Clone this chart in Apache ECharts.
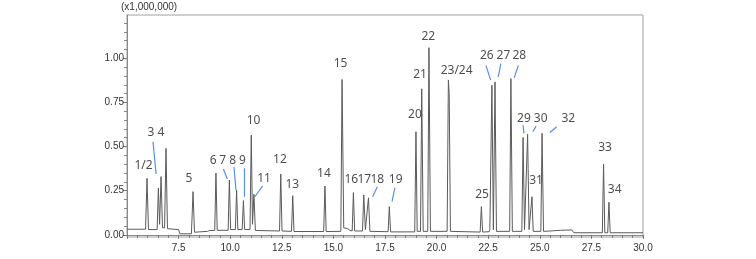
<!DOCTYPE html>
<html>
<head>
<meta charset="utf-8">
<script src="https://cdn.jsdelivr.net/npm/echarts@6/dist/echarts.min.js"></script>
<style>html,body{margin:0;padding:0;background:#fff}#c{width:756px;height:259px}</style>
</head>
<body>
<div id="c"></div>
<script>
// Chromatogram trace: [retention time (min), intensity (x1,000,000)]
var trace = [
[5.00,0.032],[5.90,0.032],[5.97,0.32],[6.04,0.030],
[6.46,0.030],[6.52,0.265],[6.58,0.06],[6.65,0.33],[6.72,0.04],[6.82,0.04],[6.89,0.49],[6.96,0.035],
[7.50,0.030],[7.56,0.006],[8.12,0.006],[8.20,0.245],[8.27,0.015],[8.90,0.020],[9.00,0.025],
[9.25,0.025],[9.31,0.35],[9.37,0.026],
[9.90,0.026],[9.96,0.31],[10.02,0.03],[10.25,0.03],[10.31,0.254],[10.37,0.03],
[10.58,0.03],[10.64,0.194],[10.70,0.03],
[10.96,0.03],[11.02,0.565],[11.08,0.06],[11.15,0.23],[11.22,0.025],
[12.39,0.022],[12.45,0.345],[12.51,0.022],
[12.97,0.020],[13.03,0.222],[13.09,0.019],
[14.53,0.019],[14.59,0.277],[14.65,0.019],
[15.36,0.020],[15.42,0.88],[15.50,0.040],[15.70,0.035],[15.80,0.025],
[15.91,0.022],[15.97,0.24],[16.03,0.022],
[16.41,0.022],[16.47,0.226],[16.55,0.03],[16.70,0.21],[16.77,0.020],
[17.65,0.018],[17.71,0.16],[17.77,0.017],
[18.94,0.017],[19.00,0.584],[19.06,0.02],[19.22,0.02],[19.28,0.827],[19.35,0.02],
[19.57,0.020],[19.63,1.06],[19.70,0.020],
[20.51,0.020],[20.57,0.876],[20.61,0.80],[20.67,0.020],
[22.11,0.016],[22.17,0.16],[22.23,0.016],
[22.55,0.018],[22.58,0.030],[22.62,0.025],[22.68,0.847],[22.75,0.03],[22.83,0.866],[22.90,0.020],
[23.54,0.020],[23.60,0.885],[23.67,0.020],
[24.13,0.020],[24.19,0.552],[24.26,0.03],[24.34,0.03],[24.41,0.569],[24.48,0.03],[24.56,0.03],[24.62,0.216],[24.68,0.020],
[25.05,0.020],[25.11,0.575],[25.18,0.020],
[25.50,0.022],[26.00,0.026],[26.55,0.028],[26.65,0.012],
[28.03,0.012],[28.09,0.40],[28.15,0.012],[28.29,0.012],[28.35,0.185],[28.41,0.012],
[30.00,0.012]
];

// Peak labels
var peakLabels = ["1/2","3","4","5","6","7","8","9","10","11","12","13","14","15","16","17","18","19","20","21","22","23/24","25","26","27","28","29","30","31","32","33","34"];
var labelTime  = [5.80,6.16,6.65,8.00,9.18,9.64,10.12,10.59,11.13,11.64,12.41,13.01,14.54,15.35,15.87,16.50,17.13,18.02,18.95,19.20,19.60,20.97,22.20,22.43,23.24,24.01,24.23,25.04,24.82,26.38,28.16,28.63];
var labelValue = [0.395,0.58,0.58,0.316,0.418,0.418,0.418,0.418,0.646,0.316,0.424,0.286,0.348,0.97,0.315,0.315,0.315,0.315,0.684,0.91,1.124,0.928,0.23,1.017,1.017,1.017,0.66,0.66,0.31,0.66,0.493,0.254];

// Leader lines: [t1, v1, t2, v2]
var leaders = [
[6.26,0.527,6.41,0.345],
[9.67,0.373,9.86,0.316],
[10.18,0.386,10.28,0.254],
[10.67,0.377,10.67,0.216],
[11.57,0.277,11.20,0.216],
[17.13,0.273,16.90,0.216],
[17.98,0.267,17.84,0.188],
[22.39,0.960,22.62,0.876],
[23.11,0.970,22.99,0.894],
[23.96,0.960,23.76,0.889],
[24.19,0.621,24.23,0.575],
[24.82,0.616,24.66,0.584],
[25.82,0.612,25.49,0.580]
];

var yTickValues = [0, 0.25, 0.5, 0.75, 1.0];
var yMinorTicks = [0.05,0.10,0.15,0.20,0.30,0.35,0.40,0.45,0.55,0.60,0.65,0.70,0.80,0.85,0.90,0.95,1.05,1.10,1.15,1.20];

var labelData = peakLabels.map(function (t, i) { return [labelTime[i], labelValue[i], t]; });
var leaderData = leaders.map(function (l) { return { coords: [[l[0], l[1]], [l[2], l[3]]] }; });

var chart = echarts.init(document.getElementById('c'), null, { renderer: 'canvas' });
var axisFont = { fontFamily: 'Liberation Sans, Arial, sans-serif', fontSize: 10, color: '#333' };
chart.setOption({
  animation: false,
  grid: { left: 127, right: 113, top: 15, bottom: 22, show: true, borderColor: '#a0a0a0', borderWidth: 1, backgroundColor: 'transparent' },
  xAxis: {
    type: 'value', min: 5, max: 30, interval: 2.5,
    axisLine: { show: true, lineStyle: { color: '#888', width: 1 } },
    axisTick: { show: true, length: 4, lineStyle: { color: '#777' } },
    minorTick: { show: true, splitNumber: 5, length: 3, lineStyle: { color: '#777' } },
    splitLine: { show: false },
    axisLabel: Object.assign({ showMinLabel: false, margin: 6, formatter: function (v) { return v.toFixed(1); } }, axisFont)
  },
  yAxis: [{
    type: 'value', min: -0.012, max: 1.245,
    name: '(x1,000,000)', nameLocation: 'end', nameGap: 3,
    nameTextStyle: Object.assign({ align: 'left', padding: [0, 0, 0, -6] }, axisFont),
    axisLine: { show: true, lineStyle: { color: '#888', width: 1 } },
    axisTick: { show: true, length: 4, customValues: yTickValues, lineStyle: { color: '#777' } },
    splitLine: { show: false },
    axisLabel: Object.assign({ customValues: yTickValues, margin: 3, formatter: function (v) { return v.toFixed(2); } }, axisFont)
  }, {
    type: 'value', min: -0.012, max: 1.245, position: 'left',
    axisLine: { show: false },
    axisTick: { show: true, length: 3, customValues: yMinorTicks, lineStyle: { color: '#888' } },
    splitLine: { show: false },
    axisLabel: { show: false, customValues: yMinorTicks }
  }],
  series: [{
    type: 'line', data: trace, showSymbol: false, symbol: 'none',
    lineStyle: { color: '#5a5a5a', width: 1 }, z: 3
  }, {
    type: 'lines', coordinateSystem: 'cartesian2d', data: leaderData,
    lineStyle: { color: '#5b8fd9', width: 1.2, opacity: 1 }, z: 4
  }, {
    type: 'scatter', data: labelData, symbolSize: 0, z: 5,
    label: {
      show: true, position: 'inside', formatter: function (p) { return p.value[2]; },
      fontFamily: 'Noto Sans, sans-serif', fontSize: 12, color: '#222'
    }
  }]
});
</script>
</body>
</html>
